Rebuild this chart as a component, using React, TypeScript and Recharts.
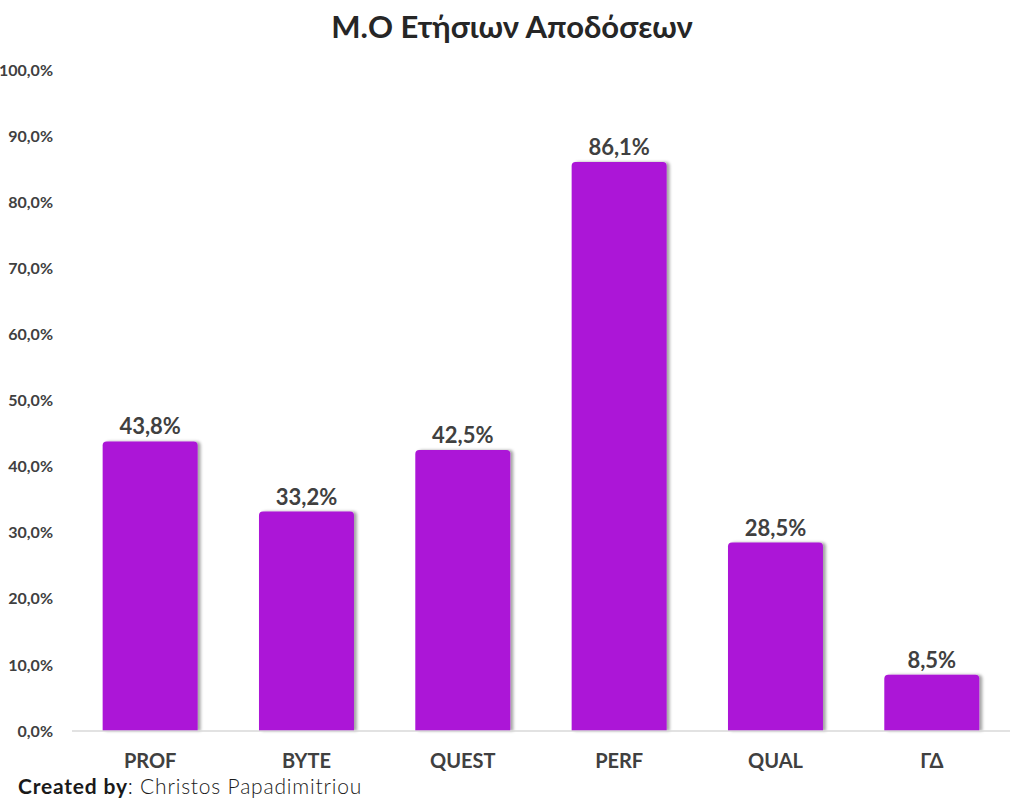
import React from 'react'
import { BarChart, Bar, XAxis, YAxis, LabelList, Rectangle } from 'recharts'

const CATEGORIES = ['PROF', 'BYTE', 'QUEST', 'PERF', 'QUAL', 'ΓΔ']
const RETURNS = [43.8, 33.2, 42.5, 86.1, 28.5, 8.5]
const Y_TICKS = [0, 10, 20, 30, 40, 50, 60, 70, 80, 90, 100]

const data = CATEGORIES.map((name, i) => ({ name, value: RETURNS[i] }))

const FONT = 'Lato, "Open Sans", sans-serif'
const TEXT = '#404040'
const BAR = '#AC14D7'

const pct = (v: number) => v.toFixed(1).replace('.', ',') + '%'

function ShadowBar(props: any) {
  return <Rectangle {...props} radius={[4, 4, 0, 0]} filter="url(#barShadow)" />
}

export default function App() {
  return (
    <div
      style={{
        position: 'absolute',
        left: 0,
        top: 0,
        width: 1024,
        height: 811,
        background: '#fff',
        fontFamily: FONT,
      }}
    >
      <div
        style={{
          position: 'absolute',
          top: 7,
          left: 0,
          width: 1024,
          textAlign: 'center',
          fontSize: 31,
          fontWeight: 700,
          color: '#262626',
        }}
      >
        M.Ο Ετήσιων Αποδόσεων
      </div>
      <BarChart
        width={1024}
        height={811}
        data={data}
        margin={{ top: 70, right: 14, bottom: 50, left: 0 }}
        barCategoryGap="19.6%"
      >
        <defs>
          <filter id="barShadow" x="-10%" y="-10%" width="130%" height="120%">
            <feDropShadow dx="3" dy="0" stdDeviation="1.5" floodColor="#000" floodOpacity="0.35" />
          </filter>
        </defs>
        <XAxis
          dataKey="name"
          axisLine={{ stroke: '#d9d9d9', strokeWidth: 1.5 }}
          tickLine={false}
          tickMargin={17}
          tick={{ fill: TEXT, fontSize: 20, fontWeight: 700, fontFamily: FONT }}
        />
        <YAxis
          width={72}
          domain={[0, 100]}
          ticks={Y_TICKS}
          interval={0}
          axisLine={false}
          tickLine={false}
          tickMargin={13}
          tickFormatter={pct}
          tick={{ fill: TEXT, fontSize: 16, fontWeight: 700, fontFamily: FONT }}
        />
        <Bar dataKey="value" fill={BAR} shape={ShadowBar} isAnimationActive={false}>
          <LabelList
            dataKey="value"
            position="top"
            offset={7}
            formatter={(v: any) => pct(Number(v))}
            style={{ fill: TEXT, fontSize: 22, fontWeight: 700, fontFamily: FONT }}
          />
        </Bar>
      </BarChart>
      <div
        style={{
          position: 'absolute',
          left: 18,
          top: 773,
          fontSize: 21,
          letterSpacing: 0.8,
          color: '#1a1a1a',
          whiteSpace: 'nowrap',
        }}
      >
        <span style={{ fontWeight: 700 }}>Created by</span>
        <span style={{ fontWeight: 300 }}>: Christos Papadimitriou</span>
      </div>
    </div>
  )
}
